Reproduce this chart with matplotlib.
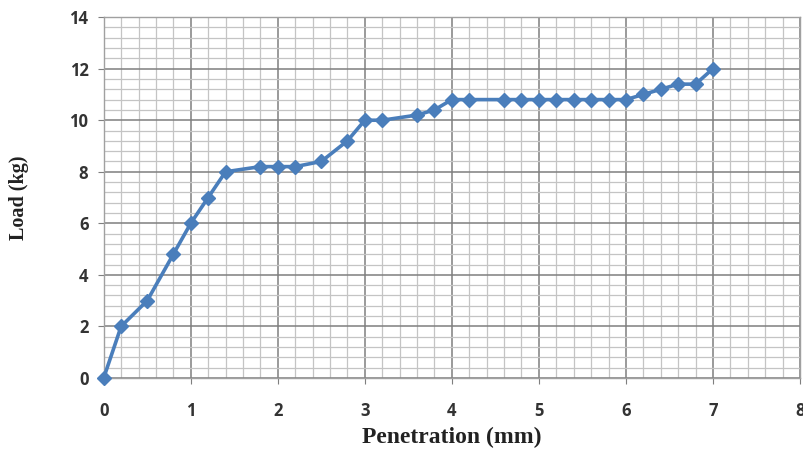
import matplotlib.pyplot as plt
from matplotlib.ticker import MultipleLocator

# Penetration (mm) vs load (kg)
penetration = [0, 0.2, 0.5, 0.8, 1.0, 1.2, 1.4, 1.8, 2.0, 2.2, 2.5, 2.8, 3.0, 3.2,
               3.6, 3.8, 4.0, 4.2, 4.6, 4.8, 5.0, 5.2, 5.4, 5.6, 5.8, 6.0, 6.2,
               6.4, 6.6, 6.8, 7.0]
load = [0, 2, 3, 4.8, 6, 7, 8, 8.2, 8.2, 8.2, 8.4, 9.2, 10, 10,
        10.2, 10.4, 10.8, 10.8, 10.8, 10.8, 10.8, 10.8, 10.8, 10.8, 10.8, 10.8, 11,
        11.2, 11.4, 11.4, 12]

fig = plt.figure(figsize=(8.04, 4.51), dpi=100)
ax = fig.add_axes([0.129, 0.162, 0.866, 0.8])

ax.plot(penetration, load, color='#4a7ebb', lw=2.6, marker='D', ms=7.5,
        mec='#4a7ebb', mfc='#4a7ebb', zorder=3, clip_on=False)

ax.set_xlim(0, 8)
ax.set_ylim(0, 14)
ax.xaxis.set_major_locator(MultipleLocator(1))
ax.xaxis.set_minor_locator(MultipleLocator(0.2))
ax.yaxis.set_major_locator(MultipleLocator(2))
ax.yaxis.set_minor_locator(MultipleLocator(0.4))

ax.grid(which='major', color='#7f7f7f', lw=1.1)
ax.grid(which='minor', color='#c4c4c4', lw=0.9)
ax.set_axisbelow(True)

for s in ax.spines.values():
    s.set_color('#a0a0a0')
    s.set_linewidth(1.0)

ax.tick_params(which='minor', length=0)
ax.tick_params(which='major', length=4, color='#7f7f7f', labelsize=12,
               labelcolor='#333333')
ax.tick_params(axis='x', pad=13)
ax.tick_params(axis='y', pad=7)
for lab in ax.get_xticklabels() + ax.get_yticklabels():
    lab.set_fontweight('bold')
    lab.set_family('Open Sans')

ax.set_xlabel('Penetration (mm)', fontfamily='Liberation Serif',
              fontweight='bold', fontsize=17, color='#222222', labelpad=5)
ax.set_ylabel('Load (kg)', fontfamily='Liberation Serif',
              fontweight='bold', fontsize=14.5, color='#222222', labelpad=29)

fig.savefig('out.png', dpi=100)
